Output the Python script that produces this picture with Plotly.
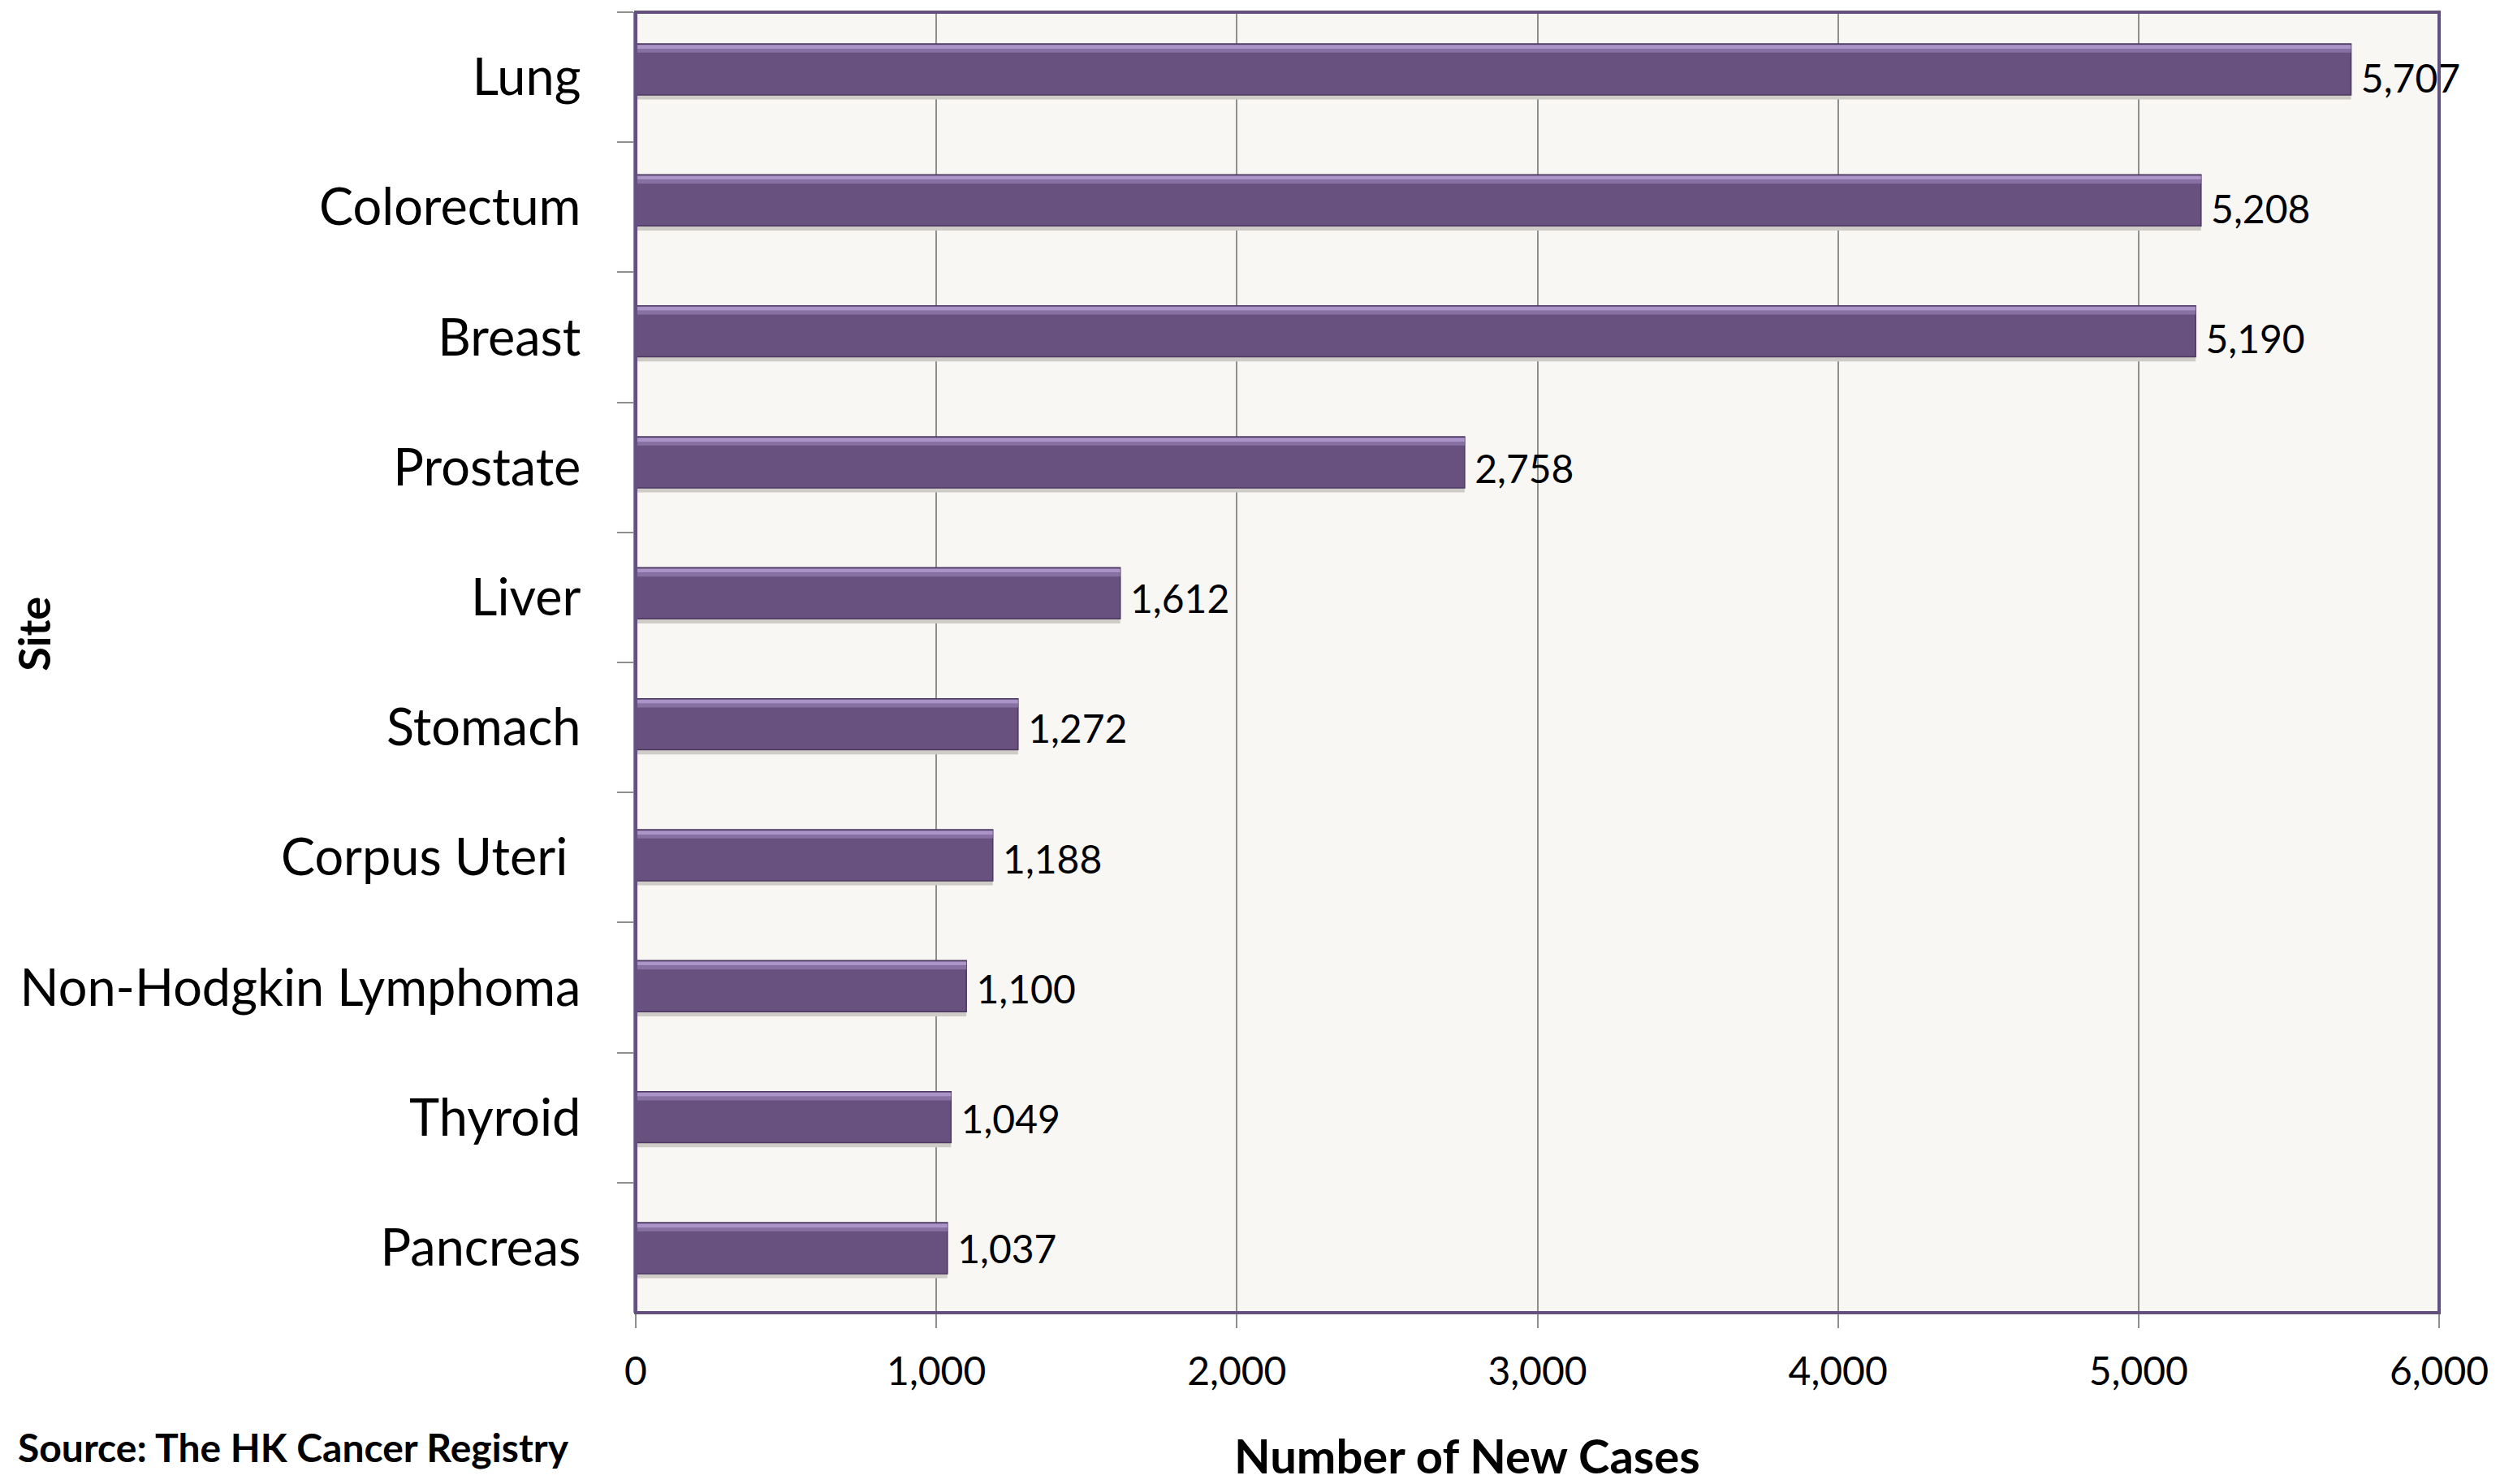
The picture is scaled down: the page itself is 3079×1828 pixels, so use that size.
import plotly.graph_objects as go

sites = ["Lung", "Colorectum", "Breast", "Prostate", "Liver", "Stomach",
         "Corpus Uteri ", "Non-Hodgkin Lymphoma", "Thyroid", "Pancreas"]
new_cases = [5707, 5208, 5190, 2758, 1612, 1272, 1188, 1100, 1049, 1037]
x_ticks = [0, 1000, 2000, 3000, 4000, 5000, 6000]
x_tick_labels = ["0", "1,000", "2,000", "3,000", "4,000", "5,000", "6,000"]

FONT = "Lato, 'Open Sans', sans-serif"
BAR = "#69517F"

fig = go.Figure()
# invisible trace to give the main category axis its categories
fig.add_trace(go.Scatter(
    y=sites, x=new_cases, mode="markers", marker=dict(opacity=0),
    hoverinfo="skip", showlegend=False, yaxis="y",
))
# value labels
fig.add_trace(go.Scatter(
    y=sites, x=new_cases, mode="text",
    text=["\u00a0" + f"{v:,}" for v in new_cases],
    textposition="middle right",
    textfont=dict(family=FONT, size=48, color="black"),
    cliponaxis=False, hoverinfo="skip", showlegend=False,
    yaxis="y3",
))
# soft drop shadow under each bar
fig.add_trace(go.Bar(
    y=sites, x=new_cases, orientation="h",
    width=0.035, offset=0.195,
    marker=dict(color="#CFCCC8", line=dict(width=0)),
    hoverinfo="skip", showlegend=False, yaxis="y2",
))
fig.add_trace(go.Bar(
    y=sites, x=new_cases, orientation="h",
    width=0.39,
    marker=dict(color=BAR, line=dict(color="#4B3960", width=1.5)),
    hoverinfo="skip", showlegend=False, yaxis="y2",
))
# bevel highlight along the top edge of each bar
fig.add_trace(go.Bar(
    y=sites, x=new_cases, orientation="h",
    width=0.03, offset=-0.188,
    marker=dict(color="#AA94C8", line=dict(width=0)),
    hoverinfo="skip", showlegend=False, yaxis="y2",
))
fig.add_trace(go.Bar(
    y=sites, x=new_cases, orientation="h",
    width=0.03, offset=-0.158,
    marker=dict(color="#8770A2", line=dict(width=0)),
    hoverinfo="skip", showlegend=False, yaxis="y2",
))

n = len(sites)
fig.update_layout(
    width=3071, height=1820,
    margin=dict(l=775, r=75, t=7, b=211),
    paper_bgcolor="white",
    plot_bgcolor="#F8F7F3",
    barmode="overlay",
    font=dict(family=FONT, color="black"),
    xaxis=dict(
        range=[0, 6000],
        tickvals=x_ticks, ticktext=x_tick_labels,
        tickfont=dict(family=FONT, size=48, color="black"),
        showgrid=True, gridcolor="#8F8F8F", gridwidth=2,
        zeroline=False,
        ticks="outside", ticklen=18, tickwidth=2, tickcolor="#8F8F8F",
        ticklabelstandoff=12,
        showline=False,
    ),
    yaxis=dict(
        categoryorder="array", categoryarray=sites,
        range=[n - 0.5, -0.5],
        tickfont=dict(family=FONT, size=63, color="black"),
        ticks="outside", ticklen=20, tickwidth=2, tickcolor="#8F8F8F",
        tickson="boundaries",
        ticklabelstandoff=52,
        showgrid=False, zeroline=False,
        showline=True, linecolor="#8A7FA0", linewidth=3,
    ),
    yaxis2=dict(
        overlaying="y", side="left",
        categoryorder="array", categoryarray=sites,
        range=[n - 0.507, -0.437],
        visible=False, showgrid=False, zeroline=False,
    ),
    yaxis3=dict(
        overlaying="y", side="left",
        categoryorder="array", categoryarray=sites,
        range=[n - 0.545, -0.545],
        visible=False, showgrid=False, zeroline=False,
    ),
    shapes=[dict(type="rect", xref="paper", yref="paper", x0=0, x1=1, y0=0, y1=1,
                 line=dict(color="#64507F", width=4), layer="above")],
    annotations=[
        dict(text="<b>Number of New Cases</b>", xref="paper", yref="paper",
             x=0.461, y=-0.1095, xanchor="center", yanchor="middle",
             showarrow=False, font=dict(family=FONT, size=58, color="black")),
        dict(text="<b>Source: The HK Cancer Registry</b>", xref="paper", yref="paper",
             x=-0.3435, y=-0.1033, xanchor="left", yanchor="middle",
             showarrow=False, font=dict(family=FONT, size=48, color="black")),
        dict(text="<b>Site</b>", xref="paper", yref="paper",
             x=-0.3336, y=0.522, xanchor="center", yanchor="middle", textangle=-90,
             showarrow=False, font=dict(family=FONT, size=54, color="black")),
    ],
)

fig.write_html("out.html")
